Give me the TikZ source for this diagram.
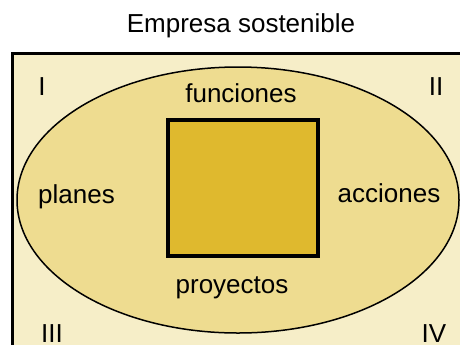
\documentclass[tikz,border=0pt]{standalone}
\usepackage{fontspec}
\setmainfont{Liberation Sans}
\definecolor{bgc}{HTML}{F6EEC8}
\definecolor{elc}{HTML}{EEDC90}
\definecolor{sqc}{HTML}{DFB92E}
\begin{document}
\begin{tikzpicture}[x=1bp,y=-1bp,
  lbl/.style={anchor=base,inner sep=0pt,font=\fontsize{26bp}{30bp}\selectfont}]
\clip (0,0) rectangle (460,344);
\fill[white] (0,0) rectangle (460,344);
\draw[line width=3bp,fill=bgc] (12,53) rectangle (480,370);
\draw[line width=1.5bp,fill=elc] (238,200) ellipse [x radius=221,y radius=133];
\node[draw,line width=4bp,fill=sqc,minimum width=150bp,minimum height=136bp,inner sep=0pt] (sq) at (242.5,188) {};
\node[lbl] (title) at (241,32) {Empresa sostenible};
\node[lbl] (fun) at (241,102) {funciones};
\node[lbl] (pla) at (76.5,203) {planes};
\node[lbl] (acc) at (389,202) {acciones};
\node[lbl] (pro) at (232,293) {proyectos};
\node[lbl] (q1) at (42,95) {I};
\node[lbl] (q2) at (436,95) {II};
\node[lbl] (q3) at (52,342) {III};
\node[lbl] (q4) at (434,342) {IV};
\end{tikzpicture}
\end{document}
